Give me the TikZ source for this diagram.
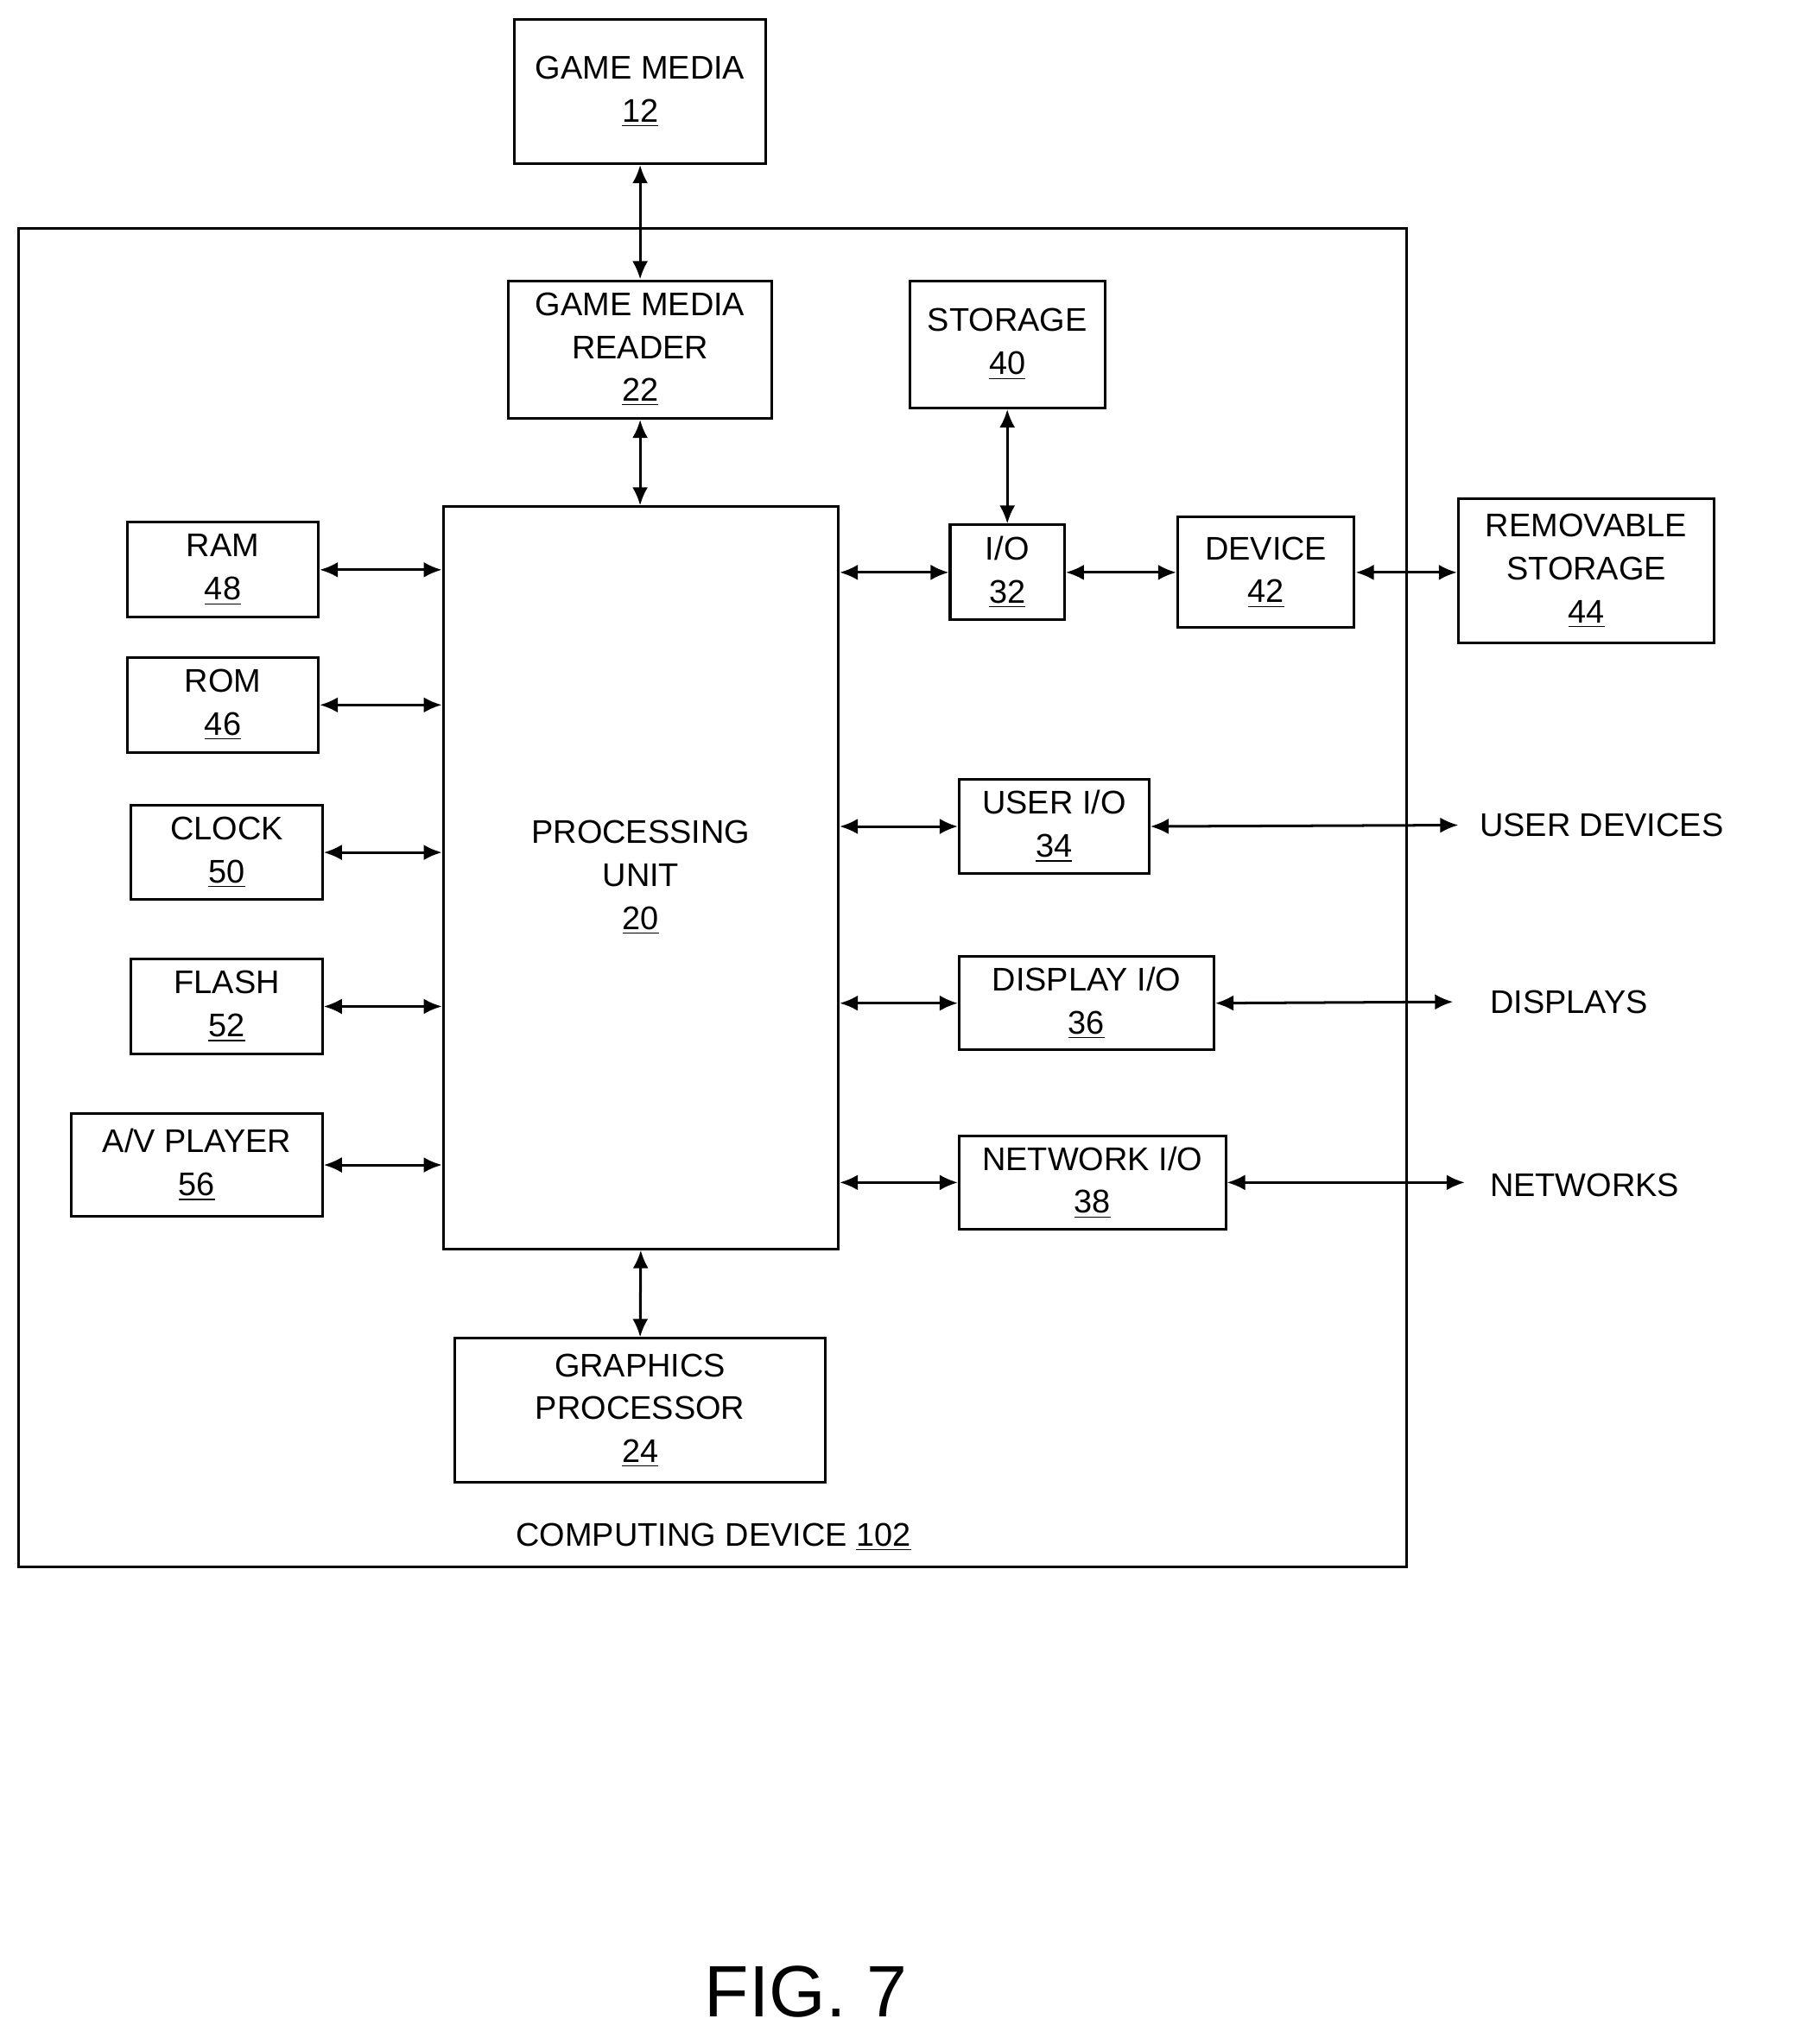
\documentclass[tikz,border=0pt]{standalone}
\usepackage{fontspec}
\setmainfont{Liberation Sans}
\usetikzlibrary{arrows.meta}
\begin{document}
\begin{tikzpicture}[x=0.5pt,y=0.5pt,
  box/.style={draw,line width=1pt,inner sep=0pt,align=center,font=\fontsize{12.6}{16.5}\selectfont},
  lab/.style={inner sep=0pt,font=\fontsize{12.6}{16.5}\selectfont},
  con/.style={line width=1pt,{Latex[length=7pt,width=6pt]}-{Latex[length=7pt,width=6pt]}}]
\useasboundingbox (0,0) rectangle (1380,-1573);
\newcommand\bx[6]{\node[box,minimum width={(#4-#2)*0.5pt},minimum height={(#5-#3)*0.5pt}] (#1) at ({(#2+#4)/2},{-(#3+#5)/2}) {#6};}
\draw[line width=1pt] (14,-176) rectangle (1082,-1206);
\bx{gm}{396}{15}{589}{126}{GAME MEDIA\\\underline{12}}
\bx{gmr}{391}{216}{594}{322}{GAME MEDIA\\READER\\\underline{22}}
\bx{st}{700}{216}{850}{314}{STORAGE\\\underline{40}}
\bx{pu}{341}{390}{645}{961}{PROCESSING\\UNIT\\\underline{20}}
\bx{ram}{98}{402}{245}{475}{RAM\\\underline{48}}
\bx{rom}{98}{506}{245}{579}{ROM\\\underline{46}}
\bx{clk}{101}{620}{248}{692}{CLOCK\\\underline{50}}
\bx{fl}{101}{738}{248}{811}{FLASH\\\underline{52}}
\bx{av}{55}{857}{248}{936}{A/V PLAYER\\\underline{56}}
\bx{io}{731}{404}{819}{477}{I/O\\\underline{32}}
\bx{dev}{906}{398}{1042}{483}{DEVICE\\\underline{42}}
\bx{rem}{1122}{384}{1319}{495}{REMOVABLE\\STORAGE\\\underline{44}}
\bx{uio}{738}{600}{884}{672}{USER I/O\\\underline{34}}
\bx{dio}{738}{736}{934}{808}{DISPLAY I/O\\\underline{36}}
\bx{nio}{738}{874}{943}{946}{NETWORK I/O\\\underline{38}}
\bx{gp}{350}{1030}{635}{1141}{GRAPHICS\\PROCESSOR\\\underline{24}}
\node[lab,anchor=west] (ud) at (1138,-635) {USER DEVICES};
\node[lab,anchor=west] (dp) at (1146,-771) {DISPLAYS};
\node[lab,anchor=west] (nw) at (1146,-912) {NETWORKS};
\node[lab] (cd) at (549,-1183) {COMPUTING DEVICE \underline{102}};
\node[inner sep=0pt,font=\fontsize{28}{30}\selectfont] (fig) at (620,-1533) {FIG. 7};
\coordinate (ue) at (1122,-635);
\coordinate (de) at (1118,-771);
\coordinate (ne) at (1127,-910);
\draw[con] (gm.south) -- (gmr.north);
\draw[con] (gmr.south) -- (gmr.south |- pu.north);
\draw[con] (st.south) -- (io.north);
\draw[con] (pu.south) -- (gp.north);
\foreach \b in {ram,rom,clk,fl,av} \draw[con] (\b.east) -- (pu.west |- \b.east);
\draw[con] (pu.east |- io.west) -- (io.west);
\draw[con] (io.east) -- (dev.west);
\draw[con] (dev.east) -- (rem.west |- dev.east);
\draw[con] (pu.east |- uio.west) -- (uio.west);
\draw[con] (pu.east |- dio.west) -- (dio.west);
\draw[con] (pu.east |- nio.west) -- (nio.west);
\draw[con] (uio.east) -- (ue);
\draw[con] (dio.east) -- (de);
\draw[con] (nio.east) -- (ne);
\end{tikzpicture}
\end{document}
